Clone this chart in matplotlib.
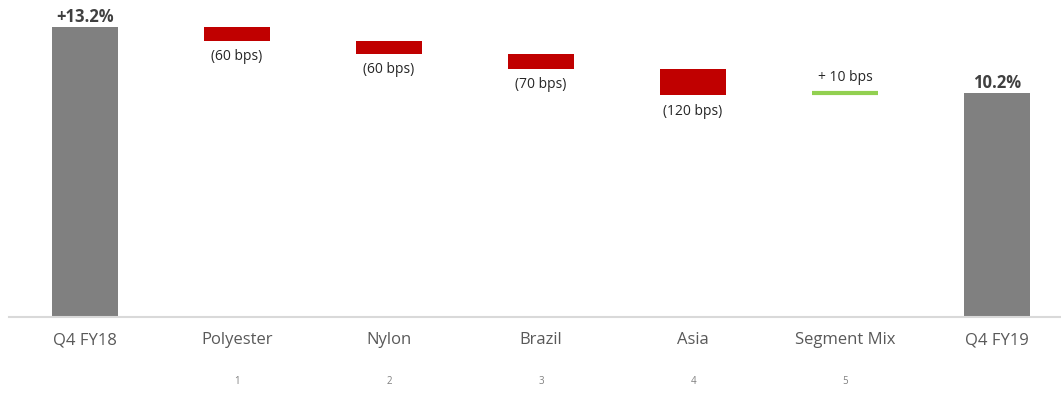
import matplotlib.pyplot as plt
from matplotlib.transforms import blended_transform_factory

# データ
categories = ['Q4 FY18', 'Polyester', 'Nylon', 'Brazil', 'Asia', 'Segment Mix', 'Q4 FY19']
start_value = 13.2
changes = [-0.6, -0.6, -0.7, -1.2, 0.1]
end_value = 10.2
change_labels = ['(60 bps)', '(60 bps)', '(70 bps)', '(120 bps)', '+ 10 bps']
step_numbers = ['1', '2', '3', '4', '5']

plt.rcParams['font.family'] = ['Open Sans', 'DejaVu Sans']

fig = plt.figure(figsize=(10.61, 3.94), dpi=100)
ax = fig.add_axes([9 / 1061, 77 / 394, 1052 / 1061, 317 / 394])

width = 0.434
gray = '#808080'
red = '#C00000'
green = '#92D050'

# 始点と終点のバー
ax.bar(0, start_value, width=width, color=gray)
ax.bar(len(categories) - 1, end_value, width=width, color=gray)

# 増減のバー
level = start_value
for i, (c, lab) in enumerate(zip(changes, change_labels), start=1):
    new_level = level + c
    if c < 0:
        ax.bar(i, c, bottom=level, width=width, color=red)
        ax.annotate(lab, (i, new_level), xytext=(0, -6), textcoords='offset points',
                    ha='center', va='top', fontsize=10, color='#262626')
    else:
        ax.plot([i - width / 2, i + width / 2], [new_level, new_level], color=green, lw=3,
                solid_capstyle='butt')
        ax.annotate(lab, (i, new_level), xytext=(0, 6), textcoords='offset points',
                    ha='center', va='bottom', fontsize=10, color='#262626')
    level = new_level

# 合計ラベル
ax.annotate(f'+{start_value:.1f}%', (0, start_value), xytext=(0, 1), textcoords='offset points',
            ha='center', va='bottom', fontsize=12, fontweight='bold', color='#404040')
ax.annotate(f'{end_value:.1f}%', (len(categories) - 1, end_value), xytext=(0, 1),
            textcoords='offset points', ha='center', va='bottom', fontsize=12,
            fontweight='bold', color='#404040')

ax.set_xlim(-0.5, 6.42)
ax.set_ylim(0, 14.45)

for s in ['top', 'right', 'left']:
    ax.spines[s].set_visible(False)
ax.spines['bottom'].set_color('#d9d9d9')
ax.spines['bottom'].set_linewidth(1.5)
ax.set_yticks([])
ax.set_xticks(range(len(categories)))
ax.set_xticklabels(categories, fontsize=12, color='#595959')
ax.tick_params(axis='x', length=0, pad=11)

# 下の番号
trans = blended_transform_factory(ax.transData, fig.transFigure)
for i, n in enumerate(step_numbers, start=1):
    ax.text(i, 1 - 382 / 394, n, transform=trans, ha='center', va='center',
            fontsize=7, color='#808080')

plt.savefig('out.png', dpi=100)
